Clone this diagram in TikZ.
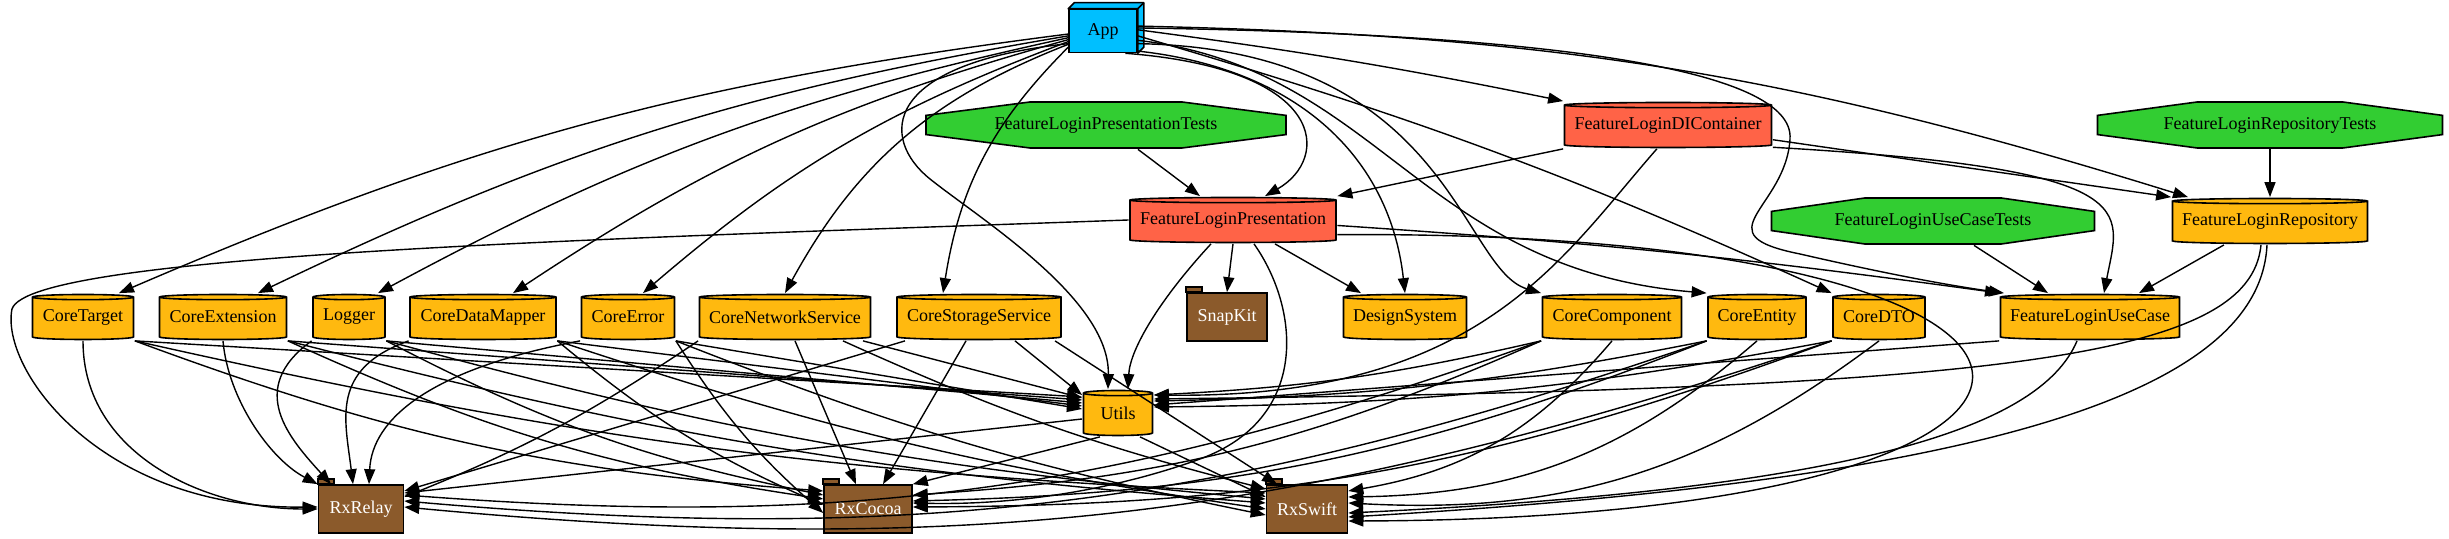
\documentclass[tikz,border=0pt]{standalone}
\usepackage{fontspec}
\setmainfont{Liberation Serif}
\usepackage{tikz}
\usetikzlibrary{arrows.meta, calc}
\definecolor{appblue}{RGB}{0, 191, 255}
\definecolor{testgreen}{RGB}{50, 205, 50}
\definecolor{featred}{RGB}{255, 99, 71}
\definecolor{coregold}{RGB}{255, 185, 15}
\definecolor{libbrown}{RGB}{139, 90, 43}

\begin{document}
\begin{tikzpicture}[x=0.5pt, y=0.5pt,
    every node/.style={font=\fontsize{9}{10}\selectfont, inner sep=0pt},
    dep/.style={-{Triangle[length=7.5pt, width=5.5pt]}, line width=0.7pt},
    cyl/.style 2 args={minimum width=#1, minimum height=23.5pt,
      path picture={\path[draw, fill=#2, line width=0.8pt]
        let \p1=(path picture bounding box.south west),
            \p2=(path picture bounding box.north east),
            \n1={(\x2-\x1)/2-0.5pt} in
        (\x1+0.5pt,\y2-1.8pt) -- (\x1+0.5pt,\y1+1.8pt)
        arc[start angle=180, end angle=360, x radius=\n1, y radius=1.3pt]
        -- (\x2-0.5pt,\y2-1.8pt)
        arc[start angle=0, end angle=180, x radius=\n1, y radius=1.3pt] -- cycle
        (\x1+0.5pt,\y2-1.8pt)
        arc[start angle=180, end angle=360, x radius=\n1, y radius=1.3pt];}},
    octo/.style={minimum width=#1, minimum height=24pt,
      path picture={\path[draw, fill=testgreen, line width=0.8pt]
        let \p1=(path picture bounding box.south west),
            \p2=(path picture bounding box.north east),
            \n1={\x2-\x1}, \n2={\y2-\y1} in
        (\x1+0.5pt,{\y1+0.3*\n2}) -- (\x1+0.5pt,{\y1+0.7*\n2})
        -- ({\x1+0.29*\n1},\y2-0.5pt) -- ({\x1+0.71*\n1},\y2-0.5pt)
        -- (\x2-0.5pt,{\y1+0.7*\n2}) -- (\x2-0.5pt,{\y1+0.3*\n2})
        -- ({\x1+0.71*\n1},\y1+0.5pt) -- ({\x1+0.29*\n1},\y1+0.5pt) -- cycle;}},
    lib/.style={draw, fill=libbrown, text=white, line width=0.8pt,
      minimum width=#1, minimum height=24pt},
    appbox/.style={draw, fill=appblue, line width=0.8pt,
      minimum width=34pt, minimum height=21.5pt}]
  \useasboundingbox (0,0) rectangle (2449,539);

  \node[appbox] (app) at (1103,508) {App};
  \draw[fill=appblue, line width=0.8pt, line join=round] (app.north west) -- ++(3pt,3pt)
    -- ([shift={(3pt,3pt)}]app.north east) -- ([shift={(3pt,3pt)}]app.south east)
    -- (app.south east) -- (app.north east) -- cycle;
  \draw[line width=0.8pt] (app.north east) -- ++(3pt,3pt);

  \node[octo=181pt] (flPresentationTests) at (1106,414) {FeatureLoginPresentationTests};
  \node[cyl={104.5pt}{featred}] (flDIContainer) at (1668,414) {FeatureLoginDIContainer};
  \node[octo=173.5pt] (flRepositoryTests) at (2270,414) {FeatureLoginRepositoryTests};
  \node[cyl={104pt}{featred}] (flPresentation) at (1233,319) {FeatureLoginPresentation};
  \node[octo=162.5pt] (flUseCaseTests) at (1933,318) {FeatureLoginUseCaseTests};
  \node[cyl={98.5pt}{coregold}] (flRepository) at (2270,318) {FeatureLoginRepository};

  \node[cyl={51.5pt}{coregold}] (coreTarget) at (83,222) {CoreTarget};
  \node[cyl={64.5pt}{coregold}] (coreExtension) at (223,222) {CoreExtension};
  \node[cyl={37pt}{coregold}] (logger) at (349,222) {Logger};
  \node[cyl={74pt}{coregold}] (coreDataMapper) at (483,222) {CoreDataMapper};
  \node[cyl={47.5pt}{coregold}] (coreError) at (628,222) {CoreError};
  \node[cyl={86.5pt}{coregold}] (coreNetwork) at (785,222) {CoreNetworkService};
  \node[cyl={83pt}{coregold}] (coreStorage) at (979,222) {CoreStorageService};
  \node[lib=40pt] (snapKit) at (1227,222) {SnapKit};
  \node[cyl={62.5pt}{coregold}] (designSystem) at (1405,222) {DesignSystem};
  \node[cyl={70.5pt}{coregold}] (coreComponent) at (1612,222) {CoreComponent};
  \node[cyl={50pt}{coregold}] (coreEntity) at (1757,222) {CoreEntity};
  \node[cyl={47pt}{coregold}] (coreDTO) at (1879,222) {CoreDTO};
  \node[cyl={90.5pt}{coregold}] (flUseCase) at (2090,222) {FeatureLoginUseCase};

  \node[cyl={35.5pt}{coregold}] (utils) at (1118,126) {Utils};
  \node[lib=42.5pt] (rxRelay) at (361,30) {RxRelay};
  \node[lib=44pt] (rxCocoa) at (868,30) {RxCocoa};
  \node[lib=40.5pt] (rxSwift) at (1307,30) {RxSwift};
  \foreach \l in {snapKit, rxRelay, rxCocoa, rxSwift}
    \draw[fill=libbrown, line width=0.8pt] (\l.north west) rectangle ++(8pt,2.5pt);

  % App
  \foreach \m/\a/\s/\b in {coreTarget/185/18pt/8, coreExtension/188/17.5pt/8,
      logger/191/14.5pt/8, coreDataMapper/194/15pt/9, coreError/197/7.5pt/10,
      coreNetwork/201/0pt/20, coreStorage/205/-18pt/18}
    \draw[dep] (app.\a) to[bend right=\b] ([xshift=\s]\m.north);
  \draw[dep] (app.200) .. controls (880,475) and (880,400) .. (930,360)
    .. controls (980,320) and (1110,240) .. ([xshift=-5pt]utils.north);
  \draw[dep] (app.-45) .. controls (1330,470) and (1330,380) .. ([xshift=16pt]flPresentation.north);
  \draw[dep] (app.-30) .. controls (1300,470) and (1390,380) .. (designSystem.north);
  \draw[dep] (app.-20) .. controls (1450,490) and (1460,270) .. (coreComponent.north west);
  \draw[dep] (app.-15) .. controls (1380,470) and (1420,270) .. (coreEntity.north west);
  \draw[dep] (app.-8) to[bend left=4] (coreDTO.north west);
  \draw[dep] (app.2) to[bend left=2] (flDIContainer.north west);
  \draw[dep] (app.8) to[bend left=8] ([xshift=-41pt]flRepository.north);
  \draw[dep] (app.5) .. controls (1550,505) and (1795,470) .. (1790,400)
    .. controls (1786,330) and (1700,305) .. (1800,285)
    .. controls (1900,262) and (1960,252) .. ([xshift=-43pt]flUseCase.north);

  % feature modules
  \draw[dep] ([xshift=16pt]flPresentationTests.south) -- ([xshift=-16.5pt]flPresentation.north);
  \draw[dep] (flDIContainer.south west) -- (flPresentation.north east);
  \draw[dep] (flDIContainer.-8) -- (flRepository.north west);
  \draw[dep] (flDIContainer.-12) .. controls (2150,370) and (2120,330) .. ([xshift=7pt]flUseCase.north);
  \draw[dep] (flDIContainer.-115) .. controls (1560,280) and (1480,140) .. ([yshift=9pt]utils.east);
  \draw[dep] (flRepositoryTests) -- (flRepository);
  \draw[dep] ([xshift=20.5pt]flUseCaseTests.south) -- ([xshift=-21pt]flUseCase.north);
  \draw[dep] ([xshift=-23pt]flRepository.south) -- ([xshift=24.5pt]flUseCase.north);
  \draw[dep] ([xshift=-4.5pt]flRepository.south) .. controls (2250,180) and (2000,150) .. ([yshift=7pt]utils.east);
  \draw[dep] ([xshift=-1.5pt]flRepository.south) .. controls (2260,150) and (2000,60) .. ([yshift=-4pt]rxSwift.east);
  \draw[dep] (flUseCase.south west) -- ([yshift=4pt]utils.east);
  \draw[dep] ([xshift=-6.5pt]flUseCase.south) .. controls (2040,110) and (1850,50) .. ([yshift=-2pt]rxSwift.east);

  \draw[dep] (flPresentation.west) .. controls (600,300) and (30,285) .. (12,230)
    .. controls (0,170) and (100,30) .. ([yshift=1pt]rxRelay.west);
  \draw[dep] ([xshift=-11pt]flPresentation.south) .. controls (1160,240) and (1130,190) .. ([xshift=5pt]utils.north);
  \draw[dep] (flPresentation.south) -- (snapKit.north);
  \draw[dep] ([xshift=10.5pt]flPresentation.south) .. controls (1300,230) and (1310,120) .. (1200,80)
    .. controls (1100,44) and (1000,34) .. ([yshift=3pt]rxCocoa.east);
  \draw[dep] ([xshift=21pt]flPresentation.south) -- ([xshift=-22pt]designSystem.north);
  \draw[dep] (flPresentation.-3) to[bend left=2] ([xshift=-45pt]flUseCase.north);
  \draw[dep] (flPresentation.-8) .. controls (2180,310) and (2180,20) .. ([yshift=-6pt]rxSwift.east);

  % core modules
  \draw[dep] (coreTarget.south) to[out=-90, in=180] (rxRelay.west);
  \draw[dep] (coreExtension.south) .. controls (228,140) and (270,80) .. (rxRelay.north west);
  \draw[dep] (logger.south west) .. controls (245,150) and (290,100) .. ([xshift=-15pt]rxRelay.north);
  \draw[dep] (coreDataMapper.south west) .. controls (330,170) and (345,120) .. ([xshift=-4pt]rxRelay.north);
  \draw[dep] (coreError.south west) .. controls (430,170) and (372,120) .. ([xshift=4pt]rxRelay.north);
  \foreach \m/\s/\c/\w in {coreTarget/8pt/9pt/8pt, coreExtension/6.5pt/5pt/3pt,
      logger/5pt/7pt/5pt, coreDataMapper/3.5pt/2pt/0pt, coreError/2pt/-2pt/-3pt}{
    \draw[dep] (\m.south east) -- ([yshift=\s]utils.west);
    \draw[dep] (\m.south east) to[bend right=8] ([yshift=\c]rxCocoa.west);
    \draw[dep] (\m.south east) to[bend right=5] ([yshift=\w]rxSwift.west);
  }
  \draw[dep] (coreNetwork.south west) to[bend left=6] ([yshift=6pt]rxRelay.east);
  \draw[dep] ([xshift=5pt]coreNetwork.south) -- ([xshift=-6pt]rxCocoa.north);
  \draw[dep] ([xshift=29pt]coreNetwork.south) to[bend right=5] ([yshift=10pt]rxSwift.west);
  \draw[dep] ([xshift=39pt]coreNetwork.south) -- ([yshift=7.5pt]utils.west);
  \draw[dep] ([xshift=-37pt]coreStorage.south) -- ([yshift=9pt]rxRelay.east);
  \draw[dep] ([xshift=-6.5pt]coreStorage.south) -- ([xshift=7.5pt]rxCocoa.north);
  \draw[dep] ([xshift=18pt]coreStorage.south) -- ([yshift=-3pt]utils.north west);
  \draw[dep] ([xshift=38pt]coreStorage.south) -- ([xshift=-15pt]rxSwift.north);
  \foreach \m/\s in {coreComponent/9pt, coreEntity/6pt, coreDTO/3pt}{
    \draw[dep] (\m.south west) to[bend left=5] ([yshift=\s]utils.east);
    \draw[dep] (\m.south west) to[bend left=12] ([yshift=\s-2pt]rxRelay.east);
    \draw[dep] (\m.south west) to[bend left=10] ([yshift=\s-2pt]rxCocoa.east);
    \draw[dep] (\m.south) to[bend left=20] ([yshift=\s]rxSwift.east);
  }

  % utils
  \draw[dep] ([yshift=-3pt]utils.west) -- ([yshift=8pt]rxRelay.east);
  \draw[dep] ([xshift=-9pt]utils.south) -- (rxCocoa.north east);
  \draw[dep] ([xshift=11pt]utils.south) -- ([yshift=6pt]rxSwift.west);
\end{tikzpicture}
\end{document}
